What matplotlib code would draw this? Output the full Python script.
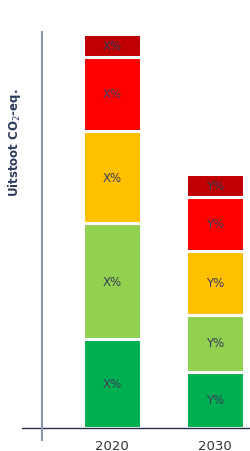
import numpy as np
import matplotlib.pyplot as plt

years = ["2020", "2030"]
# segment heights, bottom to top (arbitrary emission units)
green = [89, 56.5]
light_green = [116, 57]
yellow = [92, 64]
red = [74, 53.5]
dark_red = [23, 23]
labels = [["X%"] * 5, ["Y%"] * 5]

colors = ["#00b050", "#92d050", "#ffc000", "#ff0000", "#c00000"]
series = [green, light_green, yellow, red, dark_red]

fig = plt.figure(figsize=(2.51, 4.52), dpi=100)
ax = fig.add_axes([22 / 251, 10 / 452, 229 / 251, 410 / 452])

x = np.arange(len(years))
bottom = np.zeros(len(years))
for i, (vals, col) in enumerate(zip(series, colors)):
    bars = ax.bar(x, vals, bottom=bottom, width=0.57, color=col,
                  edgecolor="white", linewidth=2.2)
    for j, b in enumerate(bars):
        ax.text(b.get_x() + b.get_width() / 2, bottom[j] + vals[j] / 2,
                labels[j][i], ha="center", va="center", fontsize=8.5,
                color="#3a3d5c")
    bottom += np.array(vals)

ax.set_xlim(-0.874, 1.35)
ax.set_ylim(-13, 397)
for s in ax.spines.values():
    s.set_visible(False)
ax.axhline(0, color="#2b2d4f", lw=1)
ax.axvline(-0.68, color="#8c96b0", lw=1.5)

ax.set_yticks([])
ax.set_xticks([])
# year labels sit just below the axes, near the bottom edge
trans = ax.get_xaxis_transform()
for xi, yr in zip(x, years):
    ax.text(xi, -0.011, yr, transform=trans, ha="center", va="center",
            fontsize=9.5, color="#333333", clip_on=False)

fig.text(15 / 251, 1 - 143 / 452, "Uitstoot CO$_2$-eq.", rotation=90,
         ha="center", va="center", fontsize=8.5, fontweight="bold",
         color="#2e3a5c")

fig.savefig("out.png", dpi=100)
